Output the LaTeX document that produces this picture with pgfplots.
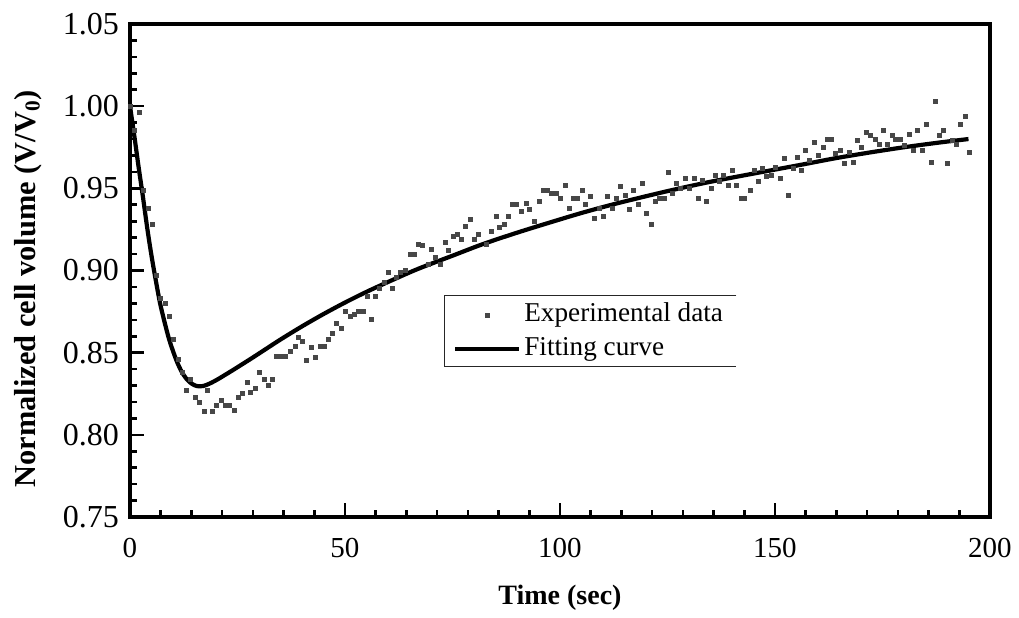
\documentclass[border=0pt]{standalone}
\usepackage{fontspec}
\setmainfont{Liberation Serif}
\usepackage{pgfplots}
\pgfplotsset{compat=1.18}
\begin{document}
\begin{tikzpicture}
\useasboundingbox (-65pt,-50pt) rectangle (444.5pt,258.5pt);
\begin{axis}[
  at={(0,0)}, anchor=south west,
  scale only axis, width=430pt, height=246.5pt,
  xmin=0, xmax=200, ymin=0.75, ymax=1.05,
  xtick={0,50,100,150,200},
  ytick={0.75,0.80,0.85,0.90,0.95,1.00,1.05},
  minor x tick num=6, minor y tick num=4,
  tick align=inside, xtick pos=bottom, ytick pos=left,
  major tick length=7pt, minor tick length=3.5pt,
  every tick/.style={black, line width=1.3pt},
  axis line style={line width=1.8pt},
  /pgf/number format/assume math mode=true,
  yticklabel style={font=\fontsize{16}{19}\selectfont, xshift=-2pt, /pgf/number format/fixed, /pgf/number format/fixed zerofill, /pgf/number format/precision=2},
  xticklabel style={font=\fontsize{14.5}{17}\selectfont, yshift=-7pt},
  xlabel={Time (sec)},
  ylabel={Normalized cell volume (V/V\textsubscript{0})},
  xlabel style={font=\bfseries\fontsize{14}{17}\selectfont, at={(axis description cs:0.5,-0.164)}, anchor=center},
  ylabel style={font=\bfseries\fontsize{15.2}{18}\selectfont, at={(axis description cs:-0.1186,0.463)}, anchor=center},
  legend cell align=left,
  legend image code/.code={\draw[mark repeat=2,mark phase=2,#1] plot coordinates {(0pt,0pt) (16pt,0pt) (32pt,0pt)};},
  legend style={at={(0.366,0.450)}, anchor=north west, draw=none, fill=none,
    font=\fontsize{13.6}{16}\selectfont, inner xsep=4pt, inner ysep=3pt, row sep=3.5pt,
    nodes={text height=10pt, text depth=3.5pt, inner xsep=1.5pt, inner ysep=0pt}},
]
\addplot[only marks, mark=square*, mark size=1pt, color=black!72] coordinates {
(0,1.000) (1,0.985) (2.2,0.996) (3.2,0.949) (4.2,0.938) (5.2,0.928) (6.1,0.897) (7.1,0.883) (8.3,0.880) (9.1,0.872)
(10.2,0.858) (11.2,0.846) (12.2,0.838) (13.1,0.827) (14.1,0.834) (15.2,0.823) (16.2,0.820) (17.3,0.814) (18.1,0.827) (19.2,0.814)
(20.1,0.818) (21.2,0.821) (22.2,0.818) (23.2,0.818) (24.3,0.815) (25.1,0.823) (26.2,0.825) (27.2,0.832) (28.1,0.826) (29.1,0.828)
(30.2,0.838) (31.2,0.834) (32.1,0.830) (33.1,0.834) (34.0,0.848) (35.2,0.848) (36.1,0.848) (37.4,0.851) (38.4,0.854) (39.1,0.859)
(40.1,0.857) (41.1,0.845) (42.1,0.853) (43.2,0.847) (44.2,0.854) (45.2,0.854) (46.1,0.858) (47.1,0.862) (48.1,0.868) (49.2,0.865)
(50.2,0.875) (51.2,0.872) (52.1,0.873) (53.1,0.875) (54.2,0.875) (55.1,0.884) (56.2,0.870) (57.0,0.884) (58.1,0.889) (59.1,0.893)
(60.1,0.899) (61.0,0.889) (62.0,0.896) (63.0,0.899) (64.1,0.900) (65.1,0.910) (66.1,0.910) (67.0,0.916) (68.0,0.915) (69.4,0.904)
(70.2,0.913) (71.1,0.908) (72.1,0.904) (73.3,0.917) (74.1,0.912) (75.1,0.921) (76.1,0.922) (77.1,0.919) (78.1,0.927) (79.1,0.931)
(80.1,0.919) (81.0,0.922) (82.9,0.916) (84.0,0.924) (85.1,0.933) (86.0,0.926) (87.0,0.928) (88.1,0.933) (89.0,0.940) (89.9,0.940)
(91.1,0.936) (92.1,0.941) (93.0,0.937) (94.1,0.930) (95.1,0.942) (96.1,0.949) (97.1,0.949) (98.1,0.947) (99.1,0.947) (100.2,0.944)
(101.2,0.952) (102.2,0.938) (103.1,0.944) (104.1,0.944) (105.2,0.949) (106.0,0.940) (107.1,0.945) (108.1,0.932) (109.1,0.938) (110.1,0.933)
(111.1,0.945) (112.1,0.938) (113.1,0.944) (114.1,0.951) (115.1,0.946) (116.1,0.937) (117.0,0.949) (118.2,0.940) (119.1,0.953) (120.2,0.935)
(121.2,0.928) (122.2,0.942) (123.1,0.944) (124.2,0.944) (125.2,0.960) (126.2,0.947) (127.1,0.953) (128.1,0.950) (129.2,0.956) (130.2,0.950)
(131.2,0.956) (132.2,0.944) (133.2,0.955) (134.1,0.942) (135.1,0.950) (136.2,0.958) (137.1,0.954) (138.1,0.958) (139.1,0.952) (140.2,0.961)
(141.1,0.952) (142.1,0.944) (143.0,0.944) (144.2,0.949) (145.1,0.961) (146.1,0.954) (147.1,0.962) (148.1,0.957) (149.2,0.958) (150.2,0.963)
(151.2,0.956) (152.2,0.968) (153.1,0.946) (154.2,0.962) (155.2,0.969) (156.2,0.961) (157.1,0.973) (158.1,0.967) (159.1,0.978) (160.1,0.970)
(161.2,0.975) (162.2,0.980) (163.2,0.980) (164.1,0.971) (165.1,0.973) (166.1,0.965) (167.2,0.972) (168.2,0.966) (169.2,0.979) (170.2,0.975)
(171.3,0.984) (172.2,0.982) (173.3,0.980) (174.2,0.977) (175.2,0.985) (176.2,0.977) (177.2,0.982) (178.1,0.980) (179.2,0.980) (180.2,0.976)
(181.2,0.983) (182.2,0.973) (183.2,0.985) (184.2,0.973) (185.3,0.989) (186.3,0.966) (187.2,1.003) (188.2,0.982) (189.1,0.985) (190.2,0.965)
(191.3,0.979) (192.2,0.977) (193.2,0.989) (194.2,0.994) (195.2,0.972)
};
\addlegendentry{Experimental data}
\addplot[black, line width=2.1pt, smooth] coordinates {
(0,1.000) (1,0.982) (2,0.963) (3,0.945) (4,0.926) (5,0.909) (6,0.894) (7,0.880) (8,0.869) (9,0.859)
(10,0.851) (11,0.844) (12,0.8385) (13,0.8345) (14,0.8318) (15,0.8302) (16,0.8295) (17,0.8297) (18,0.8306) (19,0.8318)
(20,0.8332) (21,0.8347) (22,0.8363) (24,0.8395) (26,0.8428) (28,0.8461) (31,0.8512) (35,0.8580) (40,0.8660) (45,0.8735)
(50,0.8805) (55,0.8870) (60,0.8930) (67,0.9010) (75,0.9090) (82,0.9160) (90,0.9230) (98,0.9295) (105,0.9350) (112,0.9400)
(120,0.9452) (127,0.9495) (135,0.9540) (143,0.9580) (150,0.9614) (157,0.9648) (164,0.9683) (172,0.9718) (180,0.9750) (188,0.9778) (195,0.9800)
};
\addlegendentry{Fitting curve}
\draw[line width=0.6pt, black!85] (rel axis cs:0.705,0.450) -- (rel axis cs:0.366,0.450) -- (rel axis cs:0.366,0.306) -- (rel axis cs:0.705,0.306);
\end{axis}
\end{tikzpicture}
\end{document}
